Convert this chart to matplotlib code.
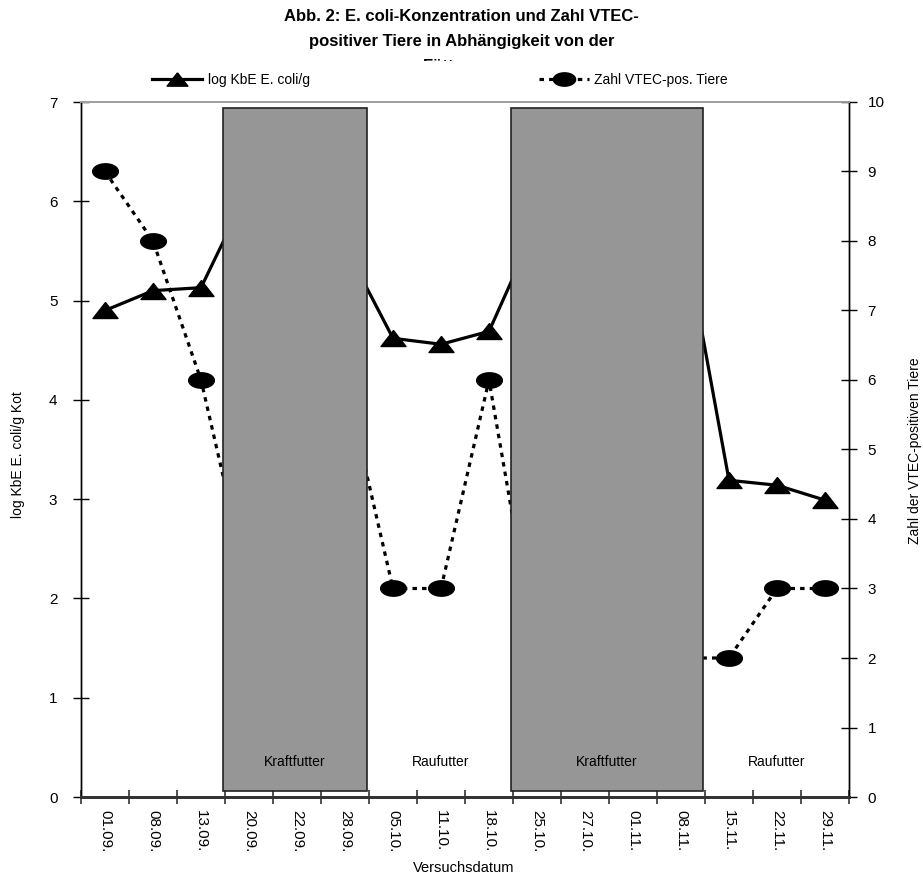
import numpy as np
import matplotlib
matplotlib.use("Agg")
import matplotlib.pyplot as plt
from matplotlib.patches import Rectangle
from matplotlib.lines import Line2D

plt.rcParams['font.family'] = ['Liberation Sans', 'DejaVu Sans']

# ---- data ----
dates = ["01.09.", "08.09.", "13.09.", "20.09.", "22.09.", "28.09.", "05.10.", "11.10.",
         "18.10.", "25.10.", "27.10.", "01.11.", "08.11.", "15.11.", "22.11.", "29.11."]
log_kbe = [4.90, 5.10, 5.13, 6.13, 5.90, 5.55, 4.62, 4.56,
           4.69, 5.77, 5.80, 5.90, 5.84, 3.19, 3.14, 2.99]
vtec_pos = [9, 8, 6, 3, 5, 6, 3, 3, 6, 2, 2, 2, 2, 2, 3, 3]
kraft_periods = [("20.09.", "28.09."), ("25.10.", "08.11.")]
rau_periods = [("05.10.", "18.10."), ("15.11.", "29.11.")]
left_ticks = [0, 1, 2, 3, 4, 5, 6, 7]
right_ticks = [0, 1, 2, 3, 4, 5, 6, 7, 8, 9, 10]

title = ("Abb. 2: E. coli-Konzentration und Zahl VTEC-\n"
         "positiver Tiere in Abhängigkeit von der\n"
         "Fütterung")

W, H = 923, 880
fig = plt.figure(figsize=(W / 100, H / 100), dpi=100)
ax = fig.add_axes([81 / W, 1 - 797 / H, (849 - 81) / W, (797 - 102) / H])
ax2 = ax.twinx()

x = np.arange(len(dates))
idx = {d: i for i, d in enumerate(dates)}

tri = [(0, 0.64), (-1, -0.64), (1, -0.64), (0, 0.64)]
t = np.linspace(0, 2 * np.pi, 60)
ell = list(zip(np.cos(t), 0.6 * np.sin(t)))

ax.plot(x, log_kbe, color='black', lw=2.3, marker=tri, markersize=18,
        markerfacecolor='black', markeredgecolor='black', zorder=2)
ax2.plot(x, vtec_pos, color='black', lw=2.3, linestyle=(0, (1.4, 1.6)), marker=ell,
         markersize=18.5, markerfacecolor='black', markeredgecolor='black', zorder=2)

# feeding periods (grey boxes) drawn above both series
for a, b in kraft_periods:
    x0 = idx[a] - 0.55
    x1 = idx[b] + 0.45
    ax2.add_patch(Rectangle((x0, 0.06), x1 - x0, 6.94 - 0.06, transform=ax.transData,
                            facecolor='#969696', edgecolor='#222222', lw=1.2, zorder=5))
    ax2.text((x0 + x1) / 2, 0.35, "Kraftfutter", transform=ax.transData, ha='center',
             va='center', fontsize=10, zorder=6)
for a, b in rau_periods:
    xc = (idx[a] + idx[b]) / 2
    ax2.text(xc, 0.35, "Raufutter", transform=ax.transData, ha='center', va='center',
             fontsize=10, zorder=6)

ax.set_xlim(-0.5, len(dates) - 0.5)
ax.set_ylim(0, 7)
ax2.set_ylim(0, 10)

ax.set_xticks(np.arange(len(dates) + 1) - 0.5)
ax.set_xticklabels([])
ax.set_xticks(x, minor=True)
ax.set_xticklabels(dates, minor=True, rotation=-90, fontsize=11)
ax.tick_params(axis='x', which='major', direction='inout', length=10, width=1.2, color='#333333')
ax.tick_params(axis='x', which='minor', length=0, pad=9)

ax.set_yticks(left_ticks)
ax.tick_params(axis='y', direction='inout', length=12, width=1, labelsize=11, pad=11)
ax2.set_yticks(right_ticks)
ax2.tick_params(axis='y', direction='inout', length=11, width=1, labelsize=11, pad=8)

for s in ('left', 'right'):
    ax.spines[s].set_color('black')
    ax2.spines[s].set_color('black')
    ax.spines[s].set_linewidth(1)
    ax2.spines[s].set_linewidth(1)
for a_ in (ax, ax2):
    a_.spines['top'].set_color('#a0a0a0')
    a_.spines['top'].set_linewidth(1.3)
    a_.spines['bottom'].set_color('#333333')
    a_.spines['bottom'].set_linewidth(2)

fig.text(18 / W, 1 - 455 / H, "log KbE E. coli/g Kot", rotation=90, ha='center',
         va='center', fontsize=10)
fig.text(915 / W, 1 - 451 / H, "Zahl der VTEC-positiven Tiere", rotation=90, ha='center',
         va='center', fontsize=10)
fig.text(464 / W, 1 - 868 / H, "Versuchsdatum", ha='center', va='center', fontsize=10.5)

fig.text(0.5, 1 - 9 / H, title, ha='center', va='top', fontsize=12, fontweight='bold',
         linespacing=1.85, zorder=1)

h1 = Line2D([], [], color='black', lw=2.3, marker=tri, markersize=15)
h2 = Line2D([], [], color='black', lw=2.3, linestyle=(0, (1.4, 1.6)), marker=ell, markersize=16)
leg = fig.legend([h1, h2], ["log KbE E. coli/g", "Zahl VTEC-pos. Tiere"], loc='center',
                 bbox_to_anchor=(440 / W, 1 - 80 / H), ncol=2, fontsize=10, handlelength=3.6,
                 columnspacing=16.5, handletextpad=0.4, frameon=True, facecolor='white',
                 edgecolor='none', framealpha=1, borderpad=0.85, fancybox=False)
leg.set_zorder(10)

fig.savefig("out.png", dpi=100)
